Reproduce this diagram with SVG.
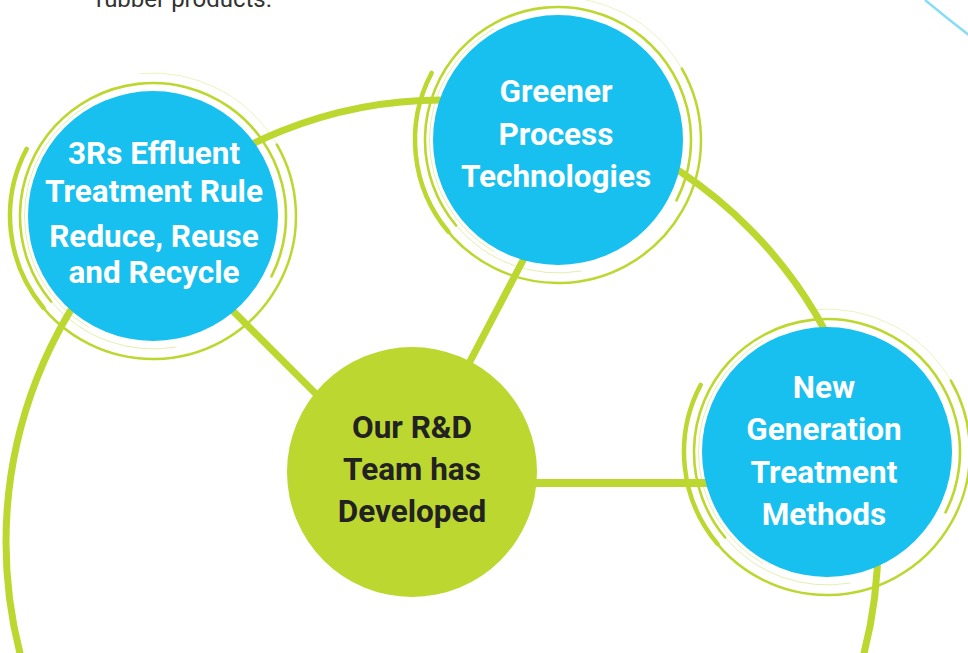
<svg xmlns="http://www.w3.org/2000/svg" xmlns:xlink="http://www.w3.org/1999/xlink" width="968" height="653" viewBox="0 0 968 653">
<style>
.g{fill:none;stroke:#BDD731;stroke-linecap:round}
.blue{fill:#18C0F0}
.t{font-family:Roboto,"Liberation Sans",sans-serif;font-weight:700;font-size:31.5px;text-anchor:middle;fill:#fff}
.tc{fill:#222}
</style>
<defs>
<g id="deco">
<path class="g" stroke-width="2.5" d="M-126.3,-67.1 A143,143 0 1 0 123.8,-71.5"/>
<path class="g" stroke-width="0.9" opacity="0.35" d="M123.8,-71.5 A143,143 0 0 0 -12.5,-142.5"/>
<path class="g" stroke-width="4.5" d="M-126.3,-67.1 A143,143 0 0 0 -109.5,91.9"/>
<path class="g" stroke-width="2.6" d="M118.5,60.4 A133,133 0 1 0 -101.9,85.5"/>
<path class="g" stroke-width="0.9" opacity="0.45" d="M-101.9,85.5 A133,133 0 0 0 23.1,131"/>
<path class="g" stroke-width="0.8" opacity="0.5" d="M-64.25,-111.3 A128.5,128.5 0 0 0 -64.25,111.3"/>
</g>
</defs>
<rect width="968" height="653" fill="#fff"/>
<text x="96" y="7" font-family="Roboto,'Liberation Sans',sans-serif" font-size="24" fill="#333">rubber products.</text>
<path d="M925,0 Q948,19 970,36" fill="none" stroke="#87DDF5" stroke-width="2.5"/>
<g id="connectors">
<ellipse class="g" cx="442" cy="542" rx="436" ry="442" stroke-width="7"/>
<line class="g" x1="200" y1="278" x2="340" y2="418" stroke-width="7" stroke-linecap="butt"/>
<line class="g" x1="455" y1="390" x2="530" y2="247" stroke-width="7" stroke-linecap="butt"/>
<line class="g" x1="500" y1="483" x2="720" y2="483" stroke-width="8" stroke-linecap="butt"/>
</g>
<g id="node-3rs">
<use xlink:href="#deco" href="#deco" transform="translate(153,216)"/>
<circle class="blue" cx="153" cy="216" r="125"/>
<text class="t" x="154" y="164">3Rs Effluent</text>
<text class="t" x="154" y="202">Treatment Rule</text>
<text class="t" x="154" y="247">Reduce, Reuse</text>
<text class="t" x="154" y="283">and Recycle</text>
</g>
<g id="node-greener">
<use xlink:href="#deco" href="#deco" transform="translate(558,140)"/>
<circle class="blue" cx="558" cy="140" r="125"/>
<text class="t" x="556" y="102">Greener</text>
<text class="t" x="556" y="145">Process</text>
<text class="t" x="556" y="187">Technologies</text>
</g>
<g id="node-newgen">
<use xlink:href="#deco" href="#deco" transform="translate(827,452)"/>
<circle class="blue" cx="827" cy="452" r="125"/>
<text class="t" x="824" y="398">New</text>
<text class="t" x="824" y="440">Generation</text>
<text class="t" x="824" y="483">Treatment</text>
<text class="t" x="824" y="525">Methods</text>
</g>
<g id="node-center">
<circle cx="412" cy="472" r="125" fill="#BDD731"/>
<text class="t tc" x="412" y="438">Our R&amp;D</text>
<text class="t tc" x="412" y="480">Team has</text>
<text class="t tc" x="412" y="522">Developed</text>
</g>
</svg>
